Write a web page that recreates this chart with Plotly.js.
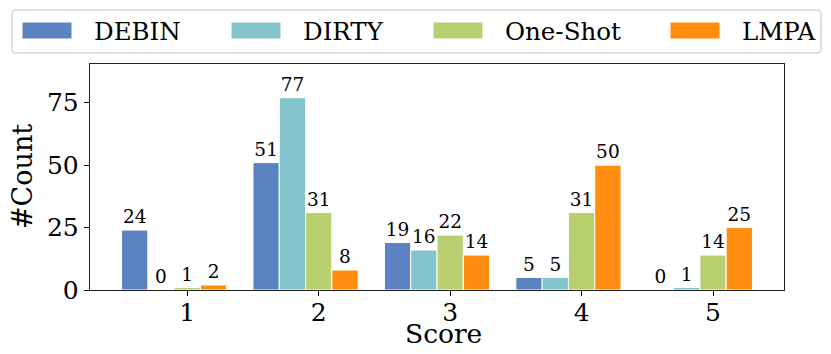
<!DOCTYPE html>
<html>
<head>
<meta charset="utf-8">
<script src="https://cdn.plot.ly/plotly-3.0.1.min.js"></script>
<style>html,body{margin:0;padding:0;background:#fff;}#chart{width:831px;height:354px;}</style>
</head>
<body>
<div id="chart"></div>
<script>
const scores = [1, 2, 3, 4, 5];
const seriesNames = ["DEBIN", "DIRTY", "One-Shot", "LMPA"];
const debin = [24, 51, 19, 5, 0];
const dirty = [0, 77, 16, 5, 1];
const oneShot = [1, 31, 22, 31, 14];
const lmpa = [2, 8, 14, 50, 25];
const yTicks = [0, 25, 50, 75];

const values = [debin, dirty, oneShot, lmpa];
const colors = ["#5b83c1", "#83c4cc", "#b8d06f", "#ff8d0f"];
const FONT = "DejaVu Serif, serif";

const W = 831, H = 354;
const M = {l: 90, r: 47, t: 64, b: 64};
const PW = W - M.l - M.r, PH = H - M.t - M.b;
const px = v => (v - M.l) / PW;
const py = v => (H - M.b - v) / PH;

const barW = 0.2;
const traces = values.map((vals, i) => ({
  type: "bar",
  name: seriesNames[i],
  x: scores,
  y: vals,
  width: barW,
  offset: -0.5 + i * barW,
  marker: {color: colors[i], line: {color: "#ffffff", width: 1}},
  text: vals.map(String),
  textposition: "outside",
  constraintext: "none",
  cliponaxis: false,
  textfont: {family: FONT, size: 18.5, color: "#000"},
  showlegend: false,
  hoverinfo: "skip"
}));

// custom legend
const shapes = [];
const annotations = [];
const legBox = {x0: 12, x1: 821, y0: 10, y1: 53};
const r = 4;
const X = v => px(v), Y = v => py(v);
shapes.push({
  type: "path", xref: "paper", yref: "paper",
  path: `M ${X(legBox.x0 + r)} ${Y(legBox.y0)} L ${X(legBox.x1 - r)} ${Y(legBox.y0)} Q ${X(legBox.x1)} ${Y(legBox.y0)} ${X(legBox.x1)} ${Y(legBox.y0 + r)} L ${X(legBox.x1)} ${Y(legBox.y1 - r)} Q ${X(legBox.x1)} ${Y(legBox.y1)} ${X(legBox.x1 - r)} ${Y(legBox.y1)} L ${X(legBox.x0 + r)} ${Y(legBox.y1)} Q ${X(legBox.x0)} ${Y(legBox.y1)} ${X(legBox.x0)} ${Y(legBox.y1 - r)} L ${X(legBox.x0)} ${Y(legBox.y0 + r)} Q ${X(legBox.x0)} ${Y(legBox.y0)} ${X(legBox.x0 + r)} ${Y(legBox.y0)} Z`,
  line: {color: "#d6d6d6", width: 1.5},
  fillcolor: "rgba(255,255,255,0.8)",
  layer: "above"
});
const swatchX = [22, 231, 433, 670];
seriesNames.forEach((nm, i) => {
  shapes.push({
    type: "rect", xref: "paper", yref: "paper",
    x0: px(swatchX[i]), x1: px(swatchX[i] + 50),
    y0: py(22), y1: py(39),
    fillcolor: colors[i], line: {color: "#ffffff", width: 1}, layer: "above"
  });
  annotations.push({
    xref: "paper", yref: "paper",
    x: px(swatchX[i] + 70), y: py(31),
    xanchor: "left", yanchor: "middle",
    text: nm, showarrow: false,
    font: {family: FONT, size: 24.5, color: "#000"}
  });
});

annotations.push({
  xref: "paper", yref: "paper", x: px(444), y: py(333),
  xanchor: "center", yanchor: "middle", text: "Score", showarrow: false,
  borderpad: 0,
  font: {family: FONT, size: 26.5, color: "#000"}
});
annotations.push({
  xref: "paper", yref: "paper", x: px(22), y: py(177),
  xanchor: "center", yanchor: "middle", text: "#Count", textangle: -90, showarrow: false,
  font: {family: FONT, size: 27, color: "#000"}
});

const layout = {
  width: W, height: H,
  margin: M,
  paper_bgcolor: "#fff", plot_bgcolor: "#fff",
  barmode: "overlay",
  showlegend: false,
  xaxis: {
    range: [0.26, 5.54],
    tickmode: "array", tickvals: scores, ticktext: scores.map(String),
    ticks: "outside", ticklen: 5, tickwidth: 1, tickcolor: "#000",
    ticklabelstandoff: -5,
    showline: true, linecolor: "#222", linewidth: 1.3, mirror: true,
    showgrid: false, zeroline: false,
    tickfont: {family: FONT, size: 25, color: "#000"}
  },
  yaxis: {
    range: [0, 90.5],
    tickmode: "array", tickvals: yTicks, ticktext: yTicks.map(String),
    ticks: "outside", ticklen: 5, tickwidth: 1, tickcolor: "#000",
    showline: true, linecolor: "#222", linewidth: 1.3, mirror: true,
    showgrid: false, zeroline: false,
    tickfont: {family: FONT, size: 25, color: "#000"}
  },
  shapes: shapes,
  annotations: annotations
};

Plotly.newPlot("chart", traces, layout, {staticPlot: true, displayModeBar: false});
</script>
</body>
</html>
